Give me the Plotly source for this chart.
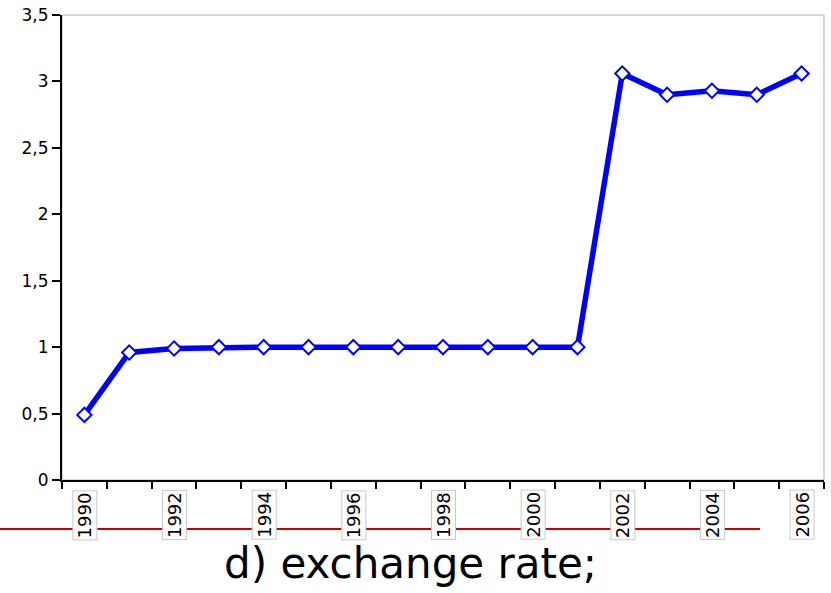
import plotly.graph_objects as go

years = [str(y) for y in range(1990, 2007)]
rates = [0.49, 0.96, 0.99, 1.0, 1.0, 1.0, 1.0, 1.0, 1.0, 1.0, 1.0, 1.0,
         3.06, 2.90, 2.93, 2.90, 3.06]
label_years = ["1990", "1992", "1994", "1996", "1998", "2000", "2002", "2004", "2006"]
y_ticks = [0, 0.5, 1, 1.5, 2, 2.5, 3, 3.5]
title_text = "d) exchange rate;"

W, H = 831, 593
L, R, T, B = 62, 7, 15, 113
plot_h = H - T - B

fig = go.Figure()
fig.add_trace(go.Scatter(
    x=years, y=rates, mode="lines+markers",
    line=dict(color="#0000FF", width=5.5),
    marker=dict(symbol="diamond", size=11, color="white",
                line=dict(color="#0000FF", width=2)),
    showlegend=False, cliponaxis=False,
))

# plot area border (light gray) top/right
fig.add_shape(type="rect", xref="paper", yref="paper", x0=0, x1=1, y0=0, y1=1,
              line=dict(color="#B0B0B0", width=1), layer="below")

# red separator line
fig.add_shape(type="line", xref="paper", yref="paper",
              x0=(0 - L) / (W - L - R), x1=(760 - L) / (W - L - R),
              y0=-(529 - (T + plot_h)) / plot_h, y1=-(529 - (T + plot_h)) / plot_h,
              line=dict(color="#CC0000", width=2), layer="below")

for yr in label_years:
    fig.add_annotation(x=years.index(yr), xref="x", y=-(515 - (T + plot_h)) / plot_h, yref="paper",
                       text=yr, textangle=-90, showarrow=False,
                       font=dict(family="DejaVu Sans", size=18, color="black"),
                       bgcolor="white", bordercolor="#C8C8C8", borderwidth=1, borderpad=1,
                       xanchor="center", yanchor="middle")

fig.add_annotation(x=(410 - L) / (W - L - R), xref="paper",
                   y=-(563 - (T + plot_h)) / plot_h, yref="paper",
                   text=title_text, showarrow=False,
                   font=dict(family="DejaVu Sans", size=42, color="black"),
                   xanchor="center", yanchor="middle")

fig.update_xaxes(type="category", range=[-0.5, len(years) - 0.5],
                 showticklabels=False, showgrid=False, zeroline=False,
                 showline=True, linecolor="black", linewidth=2,
                 ticks="outside", tickson="boundaries", ticklen=7,
                 tickcolor="black", tickwidth=2)
fig.update_yaxes(range=[0, 3.5], tickvals=y_ticks,
                 showgrid=False, zeroline=False,
                 showline=True, linecolor="black", linewidth=2,
                 ticks="outside", ticklen=8, tickcolor="black", tickwidth=2,
                 tickfont=dict(family="DejaVu Sans", size=17, color="black"))

fig.update_layout(width=W, height=H, margin=dict(l=L, r=R, t=T, b=B, autoexpand=False),
                  paper_bgcolor="white", plot_bgcolor="white", separators=",.")

fig.write_html("out.html", post_script="document.body.style.margin='0';",
               config={"displayModeBar": False})
